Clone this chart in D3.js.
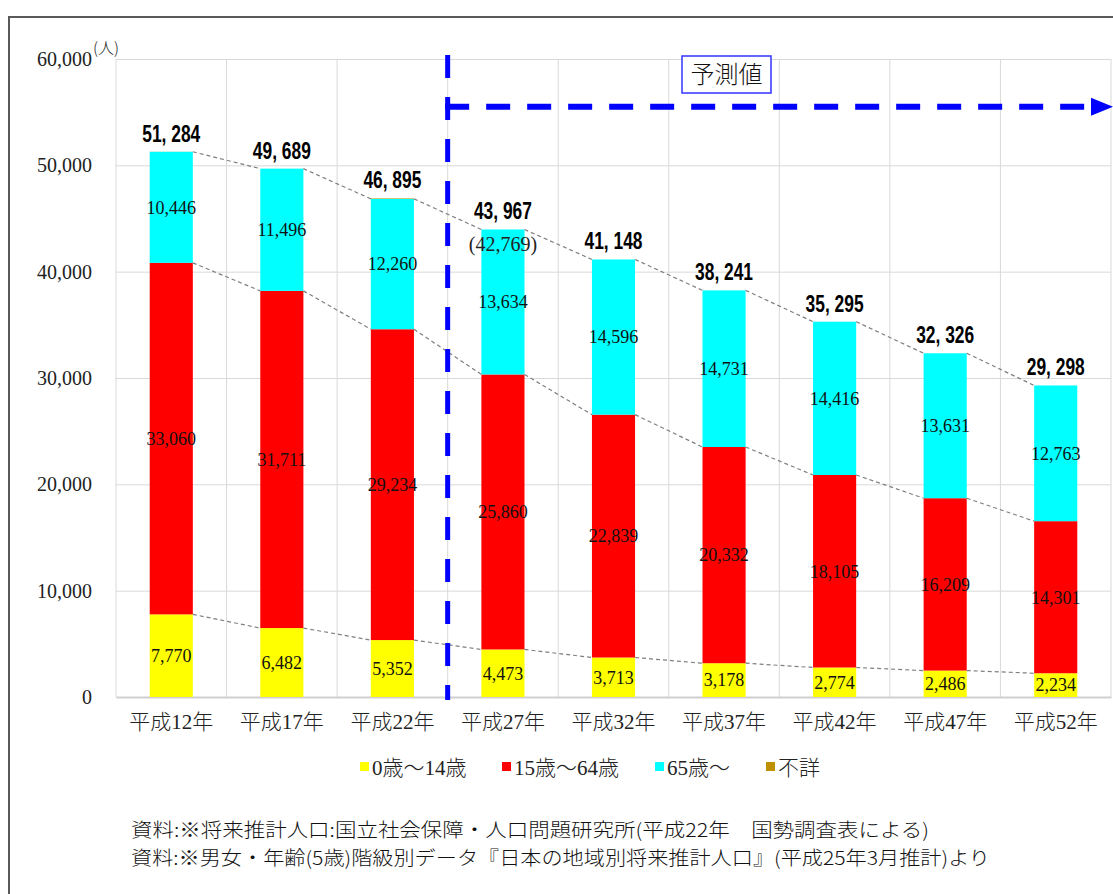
<!DOCTYPE html>
<html>
<head>
<meta charset="utf-8">
<script src="https://cdn.jsdelivr.net/npm/d3@7"></script>
<style>
  body { margin: 0; background: #fff; }
  .y.axis text, .seg text, .alt { font-family: "Liberation Serif", "DejaVu Serif", serif; }
  .x.axis text, .legend text { font-family: "Liberation Serif", "Noto Sans CJK JP", serif; font-weight: 300; }
</style>
</head>
<body>
<script>
// data
var categories = ["平成12年", "平成17年", "平成22年", "平成27年", "平成32年", "平成37年", "平成42年", "平成47年", "平成52年"];
var age0_14  = [7770, 6482, 5352, 4473, 3713, 3178, 2774, 2486, 2234];
var age15_64 = [33060, 31711, 29234, 25860, 22839, 20332, 18105, 16209, 14301];
var age65    = [10446, 11496, 12260, 13634, 14596, 14731, 14416, 13631, 12763];
var unknown  = [8, 0, 49, 0, 0, 0, 0, 0, 0];
var totals   = [51284, 49689, 46895, 43967, 41148, 38241, 35295, 32326, 29298];
var altTotals = [null, null, null, 42769, null, null, null, null, null];
var seriesNames = ["0歳～14歳", "15歳～64歳", "65歳～", "不詳"];
var yTicks = [0, 10000, 20000, 30000, 40000, 50000, 60000];

var keys = ["a", "b", "c", "d"];
var colors = ["#ffff00", "#ff0000", "#00ffff", "#bf9000"];

var W = 1113, H = 894;
var plot = {left: 116, right: 1111, top: 59, bottom: 697};

var rows = categories.map(function(c, i) {
  return {cat: c, a: age0_14[i], b: age15_64[i], c: age65[i], d: unknown[i]};
});

var x = d3.scaleBand().domain(categories).range([plot.left, plot.right]).padding(0);
var y = d3.scaleLinear().domain([0, 60000]).range([plot.bottom, plot.top]);
var barW = x.bandwidth() * 0.39;
function cx(c) { return x(c) + x.bandwidth() / 2; }

var svg = d3.select("body").append("svg")
    .attr("width", W)
    .attr("height", H);

// outer frame
svg.append("path")
  .attr("d", "M9," + H + "V17H" + W)
  .attr("fill", "none")
  .attr("stroke", "#595959")
  .attr("stroke-width", 2);

// y axis + horizontal grid
var yAxis = d3.axisLeft(y).tickValues(yTicks)
  .tickSize(-(plot.right - plot.left)).tickPadding(24)
  .tickFormat(d3.format(","));
var gy = svg.append("g")
  .attr("class", "y axis")
  .attr("transform", "translate(" + plot.left + ",0)")
  .call(yAxis);
gy.select(".domain").remove();
gy.selectAll("line").attr("stroke", "#d9d9d9");
gy.selectAll("text").style("font-size", "20px").attr("fill", "#222");

svg.append("text")
  .attr("x", 93).attr("y", 54)
  .style("font-family", "'Noto Sans CJK JP'")
  .style("font-size", "16px")
  .style("font-weight", "300")
  .attr("fill", "#222")
  .text("(人)");

// vertical grid
svg.append("g").selectAll("line")
  .data(categories.concat(["end"]))
  .enter().append("line")
  .attr("x1", function(d) { return d === "end" ? plot.right : x(d); })
  .attr("x2", function(d) { return d === "end" ? plot.right : x(d); })
  .attr("y1", plot.top).attr("y2", plot.bottom)
  .attr("stroke", "#d9d9d9");

// x axis
var gx = svg.append("g")
  .attr("class", "x axis")
  .attr("transform", "translate(0," + plot.bottom + ")")
  .call(d3.axisBottom(x).tickSize(0).tickPadding(17));
gx.select(".domain").attr("stroke", "#d0d0d0").attr("stroke-width", 2);
gx.selectAll("text").style("font-size", "21px").attr("fill", "#222");

// stacked bars
var stack = d3.stack().keys(keys)(rows);

var layers = svg.append("g").selectAll("g")
  .data(stack)
  .enter().append("g")
  .attr("fill", function(d, i) { return colors[i]; });

layers.selectAll("rect")
  .data(function(d) { return d; })
  .enter().append("rect")
  .attr("x", function(d) { return cx(d.data.cat) - barW / 2; })
  .attr("width", barW)
  .attr("y", function(d) { return y(d[1]); })
  .attr("height", function(d) { return y(d[0]) - y(d[1]); });

// series lines between bars
var seriesLines = svg.append("g")
  .attr("stroke", "#7f7f7f")
  .attr("stroke-width", 1.2)
  .attr("stroke-dasharray", "4,3");
stack.slice(0, 3).forEach(function(layer) {
  for (var i = 0; i < layer.length - 1; i++) {
    seriesLines.append("line")
      .attr("x1", cx(categories[i]) + barW / 2)
      .attr("y1", y(layer[i][1]))
      .attr("x2", cx(categories[i + 1]) - barW / 2)
      .attr("y2", y(layer[i + 1][1]));
  }
});

// segment labels
var fmt = d3.format(",");
var seg = svg.append("g").attr("class", "seg");
stack.slice(0, 3).forEach(function(layer) {
  seg.selectAll(null)
    .data(layer)
    .enter().append("text")
    .attr("x", function(d) { return cx(d.data.cat); })
    .attr("y", function(d) { return (y(d[0]) + y(d[1])) / 2; })
    .attr("dy", "0.35em")
    .attr("text-anchor", "middle")
    .style("font-size", "18px")
    .attr("fill", "#111")
    .text(function(d) { return fmt(d[1] - d[0]); });
});

// totals
svg.append("g").selectAll("text")
  .data(totals)
  .enter().append("text")
  .attr("x", function(d, i) { return cx(categories[i]); })
  .attr("y", function(d) { return y(d) - 10; })
  .attr("text-anchor", "middle")
  .style("font-family", "'Liberation Sans Narrow', 'Liberation Sans', sans-serif")
  .style("font-weight", "bold")
  .style("font-size", "23px")
  .attr("textLength", 58)
  .attr("lengthAdjust", "spacingAndGlyphs")
  .attr("fill", "#000")
  .text(function(d) { return fmt(d).replace(",", ", "); });

svg.append("g").selectAll("text")
  .data(altTotals.map(function(v, i) { return {v: v, i: i}; }).filter(function(d) { return d.v !== null; }))
  .enter().append("text")
  .attr("class", "alt")
  .attr("x", function(d) { return cx(categories[d.i]); })
  .attr("y", function(d) { return y(totals[d.i]) + 22; })
  .attr("text-anchor", "middle")
  .style("font-size", "20px")
  .attr("fill", "#222")
  .text(function(d) { return "(" + fmt(d.v) + ")"; });

// forecast marker
var fx = x(categories[3]);
var fy = y(55500);
svg.append("line")
  .attr("x1", fx).attr("x2", fx)
  .attr("y1", 55).attr("y2", plot.bottom + 3)
  .attr("stroke", "#0000ff").attr("stroke-width", 5)
  .attr("stroke-dasharray", "23,19");
svg.append("line")
  .attr("x1", fx - 2.5).attr("x2", W - 16)
  .attr("y1", fy).attr("y2", fy)
  .attr("stroke", "#0000ff").attr("stroke-width", 6)
  .attr("stroke-dasharray", "24,17");
svg.append("path")
  .attr("d", "M" + (W - 22) + "," + (fy - 9) + "L" + W + "," + fy + "L" + (W - 22) + "," + (fy + 9) + "Z")
  .attr("fill", "#0000ff");

svg.append("rect")
  .attr("x", 682).attr("y", 56).attr("width", 89).attr("height", 37)
  .attr("fill", "#fff").attr("stroke", "#3333ff").attr("stroke-width", 1.5);
svg.append("text")
  .attr("x", 726.5).attr("y", 83)
  .attr("text-anchor", "middle")
  .style("font-family", "'Noto Sans CJK JP'")
  .style("font-size", "24px")
  .style("font-weight", "300")
  .attr("fill", "#111")
  .text("予測値");

// legend
var legendX = [360, 502, 655, 766];
var legend = svg.append("g").attr("class", "legend");
seriesNames.forEach(function(name, i) {
  legend.append("rect")
    .attr("x", legendX[i]).attr("y", 762)
    .attr("width", 9).attr("height", 9)
    .attr("fill", colors[i]);
  legend.append("text")
    .attr("x", legendX[i] + 12).attr("y", 775)
    .style("font-size", "21px")
    .attr("fill", "#222")
    .text(name);
});

// notes
var notes = [
  {t: "資料:※将来推計人口:国立社会保障・人口問題研究所(平成22年　国勢調査表による)", w: 798},
  {t: "資料:※男女・年齢(5歳)階級別データ『日本の地域別将来推計人口』(平成25年3月推計)より", w: 859}
];
svg.append("g").selectAll("text")
  .data(notes)
  .enter().append("text")
  .attr("x", 131)
  .attr("y", function(d, i) { return 837 + i * 28; })
  .style("font-family", "'Noto Sans CJK JP'")
  .style("font-size", "19px")
  .style("font-weight", "300")
  .attr("textLength", function(d) { return d.w; })
  .attr("lengthAdjust", "spacingAndGlyphs")
  .attr("fill", "#111")
  .text(function(d) { return d.t; });
</script>
</body>
</html>
